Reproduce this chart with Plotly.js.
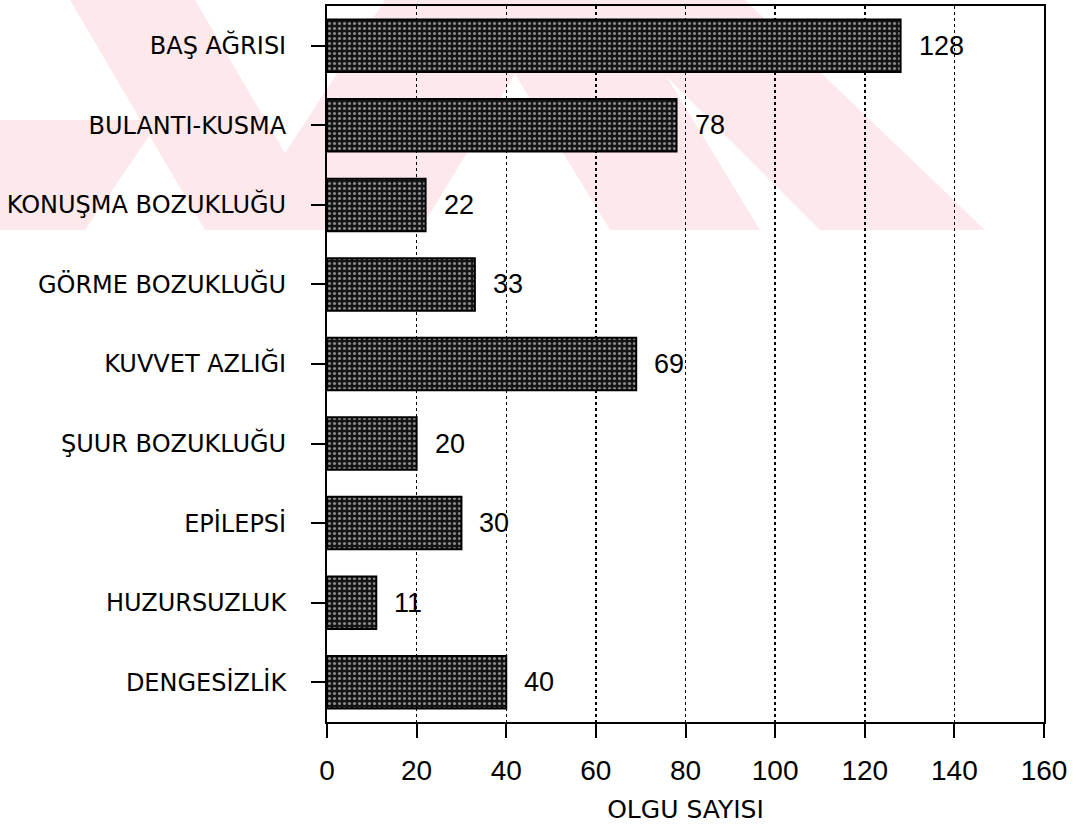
<!DOCTYPE html>
<html>
<head>
<meta charset="utf-8">
<script src="https://cdn.plot.ly/plotly-3.0.1.min.js"></script>
<style>html,body{margin:0;padding:0;background:#fff;}</style>
</head>
<body>
<div id="chart" style="width:1082px;height:828px;"></div>
<script>
// Data
const categories = ["BAŞ AĞRISI","BULANTI-KUSMA","KONUŞMA BOZUKLUĞU","GÖRME BOZUKLUĞU","KUVVET AZLIĞI","ŞUUR BOZUKLUĞU","EPİLEPSİ","HUZURSUZLUK","DENGESİZLİK"];
const values = [128, 78, 22, 33, 69, 20, 30, 11, 40];
const xTickValues = [0, 20, 40, 60, 80, 100, 120, 140, 160];
const xTitle = "OLGU SAYISI";

const numFont = "Liberation Sans, Arial, sans-serif";
const labFont = "DejaVu Sans, Liberation Sans, sans-serif";

const trace = {
  type: "bar",
  orientation: "h",
  x: values,
  y: categories,
  width: 0.66,
  marker: {
    color: "#141414",
    line: {color: "#000", width: 2},
    pattern: {shape: ".", fgcolor: "#ffffff", bgcolor: "#141414", size: 5, solidity: 0.3, fillmode: "overlay"}
  },
  hoverinfo: "none"
};

const annotations = values.map((v, i) => ({
  x: v, y: categories[i], xref: "x", yref: "y",
  text: String(v), showarrow: false, xanchor: "left", yanchor: "middle",
  xshift: 16, font: {family: numFont, size: 27, color: "#000"}
}));

const W = 1082, H = 828;
const ml = 327, mr = 38, mt = 6, mb = 106;
const pw = W - ml - mr, ph = H - mt - mb;
function px(x, y) { return [(x - ml) / pw, 1 - (y - mt) / ph]; }
function poly(pts) {
  const p = "M" + pts.map(q => q[0] + "," + q[1]).join(" L") + " Z";
  return {type: "path", xref: "paper", yref: "paper", path: p, fillcolor: "#fde8eb", line: {width: 0}, layer: "below"};
}
// faint background watermark bands (pixel outlines)
const bands = [
  [[70,0],[195,0],[330,230],[205,230]],
  [[0,120],[0,230],[85,230],[160,120]],
  [[235,230],[420,230],[560,0],[385,0]],
  [[610,230],[760,230],[620,0],[470,0]],
  [[820,230],[985,230],[745,0],[590,0]]
];
const shapes = bands.map(b => poly(b.map(q => px(q[0], q[1]))));

const layout = {
  width: W, height: H,
  margin: {l: ml, r: mr, t: mt, b: mb},
  paper_bgcolor: "rgba(0,0,0,0)",
  plot_bgcolor: "rgba(0,0,0,0)",
  showlegend: false,
  shapes: shapes,
  annotations: annotations,
  xaxis: {
    range: [0, 160],
    tickvals: xTickValues,
    ticktext: xTickValues.map(String),
    ticks: "outside", ticklen: 14, tickwidth: 2, tickcolor: "#000",
    showline: true, linecolor: "#000", linewidth: 2, mirror: true,
    showgrid: true, gridcolor: "#000", gridwidth: 1.5, griddash: "dot",
    zeroline: false,
    ticklabelstandoff: 8,
    tickfont: {family: numFont, size: 28, color: "#000"},
    title: {text: xTitle, font: {family: labFont, size: 25, color: "#000"}, standoff: 16},
    fixedrange: true
  },
  yaxis: {
    type: "category",
    categoryorder: "array", categoryarray: categories,
    range: [8.5, -0.5],
    ticks: "outside", ticklen: 14, tickwidth: 2, tickcolor: "#000",
    showline: true, linecolor: "#000", linewidth: 2, mirror: true,
    showgrid: false, zeroline: false,
    ticklabelstandoff: 20,
    tickfont: {family: labFont, size: 24, color: "#000"},
    fixedrange: true
  },
  font: {family: labFont, color: "#000"}
};

Plotly.newPlot("chart", [trace], layout, {displayModeBar: false, staticPlot: true});
</script>
</body>
</html>
